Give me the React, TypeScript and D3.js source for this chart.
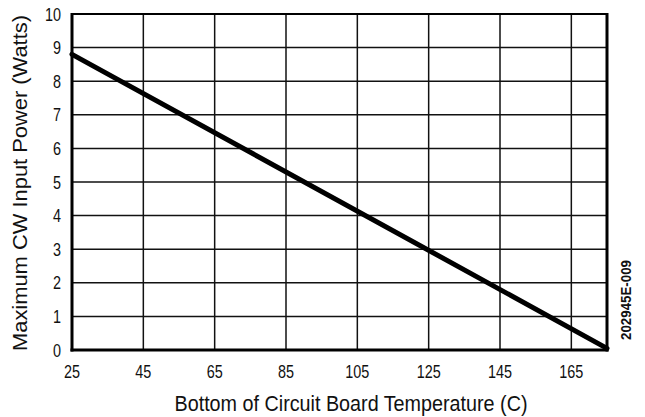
import * as d3 from "d3";

const xTicks = [25, 45, 65, 85, 105, 125, 145, 165];
const yTicks = [0, 1, 2, 3, 4, 5, 6, 7, 8, 9, 10];
const lineTemps = [25, 175];
const linePower = [8.8, 0.05];

const W = 645, H = 417;
const m = { top: 14, right: 38, bottom: 67, left: 72 };
const FONT = "'Liberation Sans', Arial, sans-serif";
const SX = 0.8;

export default function App() {
  const x = d3.scaleLinear().domain([25, 175]).range([m.left, W - m.right]);
  const y = d3.scaleLinear().domain([0, 10]).range([H - m.bottom, m.top]);
  const pts: [number, number][] = lineTemps.map((t, i) => [t, linePower[i]]);
  const path = d3.line<[number, number]>().x(d => x(d[0])).y(d => y(d[1]))(pts) || "";

  return (
    <svg width={W} height={H} style={{ position: "absolute", left: 0, top: 0, background: "#fff" }}
      fontFamily={FONT}>
      {xTicks.map(t => (
        <line key={"gx" + t} x1={x(t)} x2={x(t)} y1={y(0)} y2={y(10)} stroke="#111" strokeWidth={1.5} />
      ))}
      {yTicks.map(t => (
        <line key={"gy" + t} x1={x(25)} x2={x(175)} y1={y(t)} y2={y(t)} stroke="#111" strokeWidth={1.5} />
      ))}
      <line x1={x(25)} x2={x(175)} y1={y(10)} y2={y(10)} stroke="#000" strokeWidth={2} />
      <line x1={x(175)} x2={x(175)} y1={y(10) - 1} y2={y(0) + 1.5} stroke="#000" strokeWidth={3} />
      <line x1={x(25)} x2={x(25)} y1={y(10) - 1} y2={y(0) + 1.5} stroke="#000" strokeWidth={3} />
      <line x1={x(25) - 1.5} x2={x(175) + 1.5} y1={y(0)} y2={y(0)} stroke="#000" strokeWidth={3} />
      <path d={path} fill="none" stroke="#000" strokeWidth={5} strokeLinecap="round" />
      {yTicks.map(t => (
        <text key={"ly" + t} transform={`translate(${x(25) - 11},${y(t) + 6.5}) scale(${SX},1)`}
          textAnchor="end" fontSize={18} fill="#111">{t}</text>
      ))}
      {xTicks.map(t => (
        <text key={"lx" + t} transform={`translate(${x(t)},${y(0) + 28}) scale(${SX},1)`}
          textAnchor="middle" fontSize={18} fill="#111">{t}</text>
      ))}
      <text x={351} y={411} textAnchor="middle" fontSize={22} fill="#111"
        textLength={353} lengthAdjust="spacingAndGlyphs">
        Bottom of Circuit Board Temperature (C)
      </text>
      <text transform={`translate(27,183) rotate(-90)`} textAnchor="middle" fontSize={20} fill="#111"
        textLength={336} lengthAdjust="spacingAndGlyphs">
        Maximum CW Input Power (Watts)
      </text>
      <text transform={`translate(631,300) rotate(-90)`} textAnchor="middle" fontSize={14} fontWeight="bold" fill="#111"
        textLength={80} lengthAdjust="spacingAndGlyphs">
        202945E-009
      </text>
    </svg>
  );
}
